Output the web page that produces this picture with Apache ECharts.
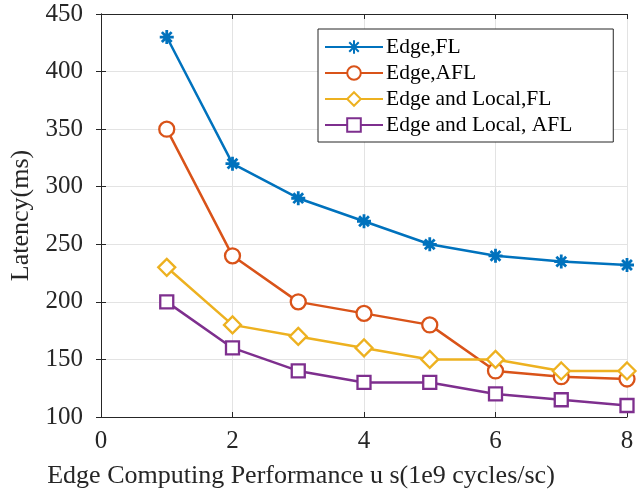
<!DOCTYPE html>
<html>
<head>
<meta charset="utf-8">
<script src="https://cdn.jsdelivr.net/npm/echarts@6/dist/echarts.min.js"></script>
<style>
  html, body { margin: 0; padding: 0; background: #fff; }
  #chart { width: 641px; height: 489px; }
</style>
</head>
<body>
<div id="chart"></div>
<script>
// Edge computing performance (x) vs. latency in ms for four schemes
const xValues = [1, 2, 3, 4, 5, 6, 7, 8];
const edgeFL = [430, 320, 290, 270, 250, 240, 235, 232];
const edgeAFL = [350, 240, 200, 190, 180, 140, 135, 133];
const edgeLocalFL = [230, 180, 170, 160, 150, 150, 140, 140];
const edgeLocalAFL = [200, 160, 140, 130, 130, 120, 115, 110];
const seriesNames = ['Edge,FL', 'Edge,AFL', 'Edge and Local,FL', 'Edge and Local, AFL'];

const FONT = 'Liberation Serif';
const AXIS = '#262626';
const asterisk = 'path://M0,-10L0,10M-10,0L10,0M-7,-7L7,7M-7,7L7,-7';

function pairs(ys) { return xValues.map((x, i) => [x, ys[i]]); }

function makeSeries(name, ys, color, symbol, size) {
  const hollow = symbol !== asterisk;
  return {
    name, type: 'line', data: pairs(ys),
    symbol, symbolSize: size,
    showAllSymbol: true,
    lineStyle: { color, width: 2.5 },
    itemStyle: { color: hollow ? '#fff' : color, borderColor: color, borderWidth: hollow ? 2.3 : 2.8 },
    emphasis: { disabled: true },
    z: 3
  };
}

const chart = echarts.init(document.getElementById('chart'), null, { renderer: 'canvas' });

const commonX = { type: 'value', min: 0, max: 8, interval: 2 };
const commonY = { type: 'value', min: 100, max: 450, interval: 50 };

chart.setOption({
  animation: false,
  backgroundColor: '#fff',
  grid: { left: 101, right: 14, top: 14, bottom: 72, containLabel: false, outerBoundsMode: 'none' },
  legend: {
    orient: 'vertical',
    left: 318, top: 29,
    padding: [7, 41, 6, 6],
    backgroundColor: '#fff',
    borderColor: AXIS, borderWidth: 1,
    itemWidth: 58, itemHeight: 17, itemGap: 4,
    textStyle: { fontFamily: FONT, fontSize: 21.5, color: '#000', lineHeight: 22, padding: [0, 0, 0, -2] },
    data: seriesNames
  },
  xAxis: [
    Object.assign({}, commonX, {
      position: 'bottom',
      name: 'Edge Computing Performance u s(1e9 cycles/sc)',
      nameLocation: 'middle', nameGap: 46,
      nameTextStyle: { fontFamily: FONT, fontSize: 26, color: '#262626', padding: [0, 126, 0, 0] },
      axisLine: { lineStyle: { color: AXIS, width: 1 } },
      axisTick: { inside: true, length: 5, lineStyle: { color: AXIS } },
      axisLabel: { fontFamily: FONT, fontSize: 25, color: '#262626', margin: 12 },
      splitLine: { show: true, lineStyle: { color: '#e3e3e3', width: 1 } }
    }),
    Object.assign({}, commonX, {
      position: 'top',
      axisLine: { lineStyle: { color: AXIS, width: 1 } },
      axisTick: { inside: true, length: 5, lineStyle: { color: AXIS } },
      axisLabel: { show: false },
      splitLine: { show: false }
    })
  ],
  yAxis: [
    Object.assign({}, commonY, {
      position: 'left',
      name: 'Latency(ms)',
      nameLocation: 'middle', nameGap: 63, nameRotate: 90,
      nameTextStyle: { fontFamily: FONT, fontSize: 26, color: '#262626' },
      axisLine: { show: true, lineStyle: { color: AXIS, width: 1 } },
      axisTick: { show: true, inside: true, length: 5, lineStyle: { color: AXIS } },
      axisLabel: { fontFamily: FONT, fontSize: 25, color: '#262626', margin: 18 },
      splitLine: { show: true, lineStyle: { color: '#e3e3e3', width: 1 } }
    }),
    Object.assign({}, commonY, {
      position: 'right',
      axisLine: { show: true, lineStyle: { color: AXIS, width: 1 } },
      axisTick: { show: true, inside: true, length: 5, lineStyle: { color: AXIS } },
      axisLabel: { show: false },
      splitLine: { show: false }
    })
  ],
  series: [
    makeSeries(seriesNames[0], edgeFL, '#0072BD', asterisk, 14),
    makeSeries(seriesNames[1], edgeAFL, '#D95319', 'circle', 15),
    makeSeries(seriesNames[2], edgeLocalFL, '#EDB120', 'diamond', 17),
    makeSeries(seriesNames[3], edgeLocalAFL, '#7E2F8E', 'rect', 13)
  ]
});
</script>
</body>
</html>
